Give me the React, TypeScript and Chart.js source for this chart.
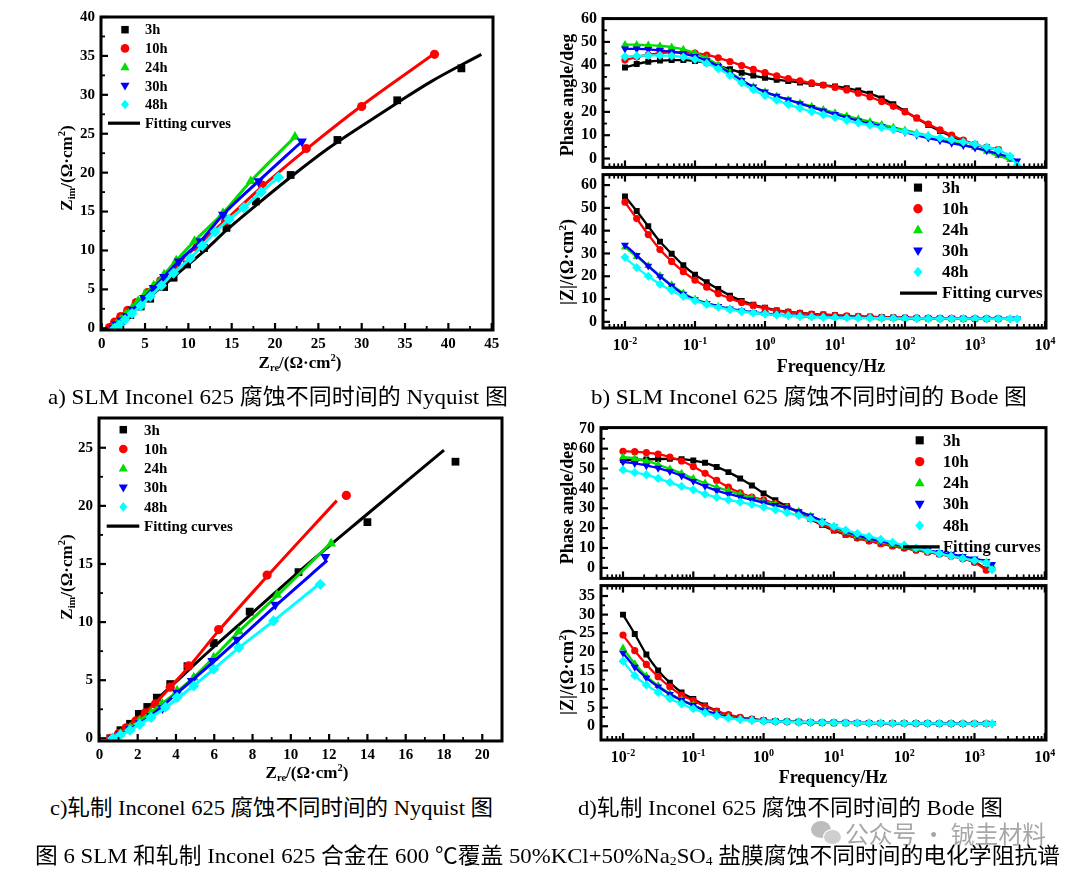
import React, { useEffect, useLayoutEffect, useRef } from 'react';
import { Chart, registerables } from 'chart.js';

Chart.register(...registerables);

// ---------------- series / legend ----------------
const SERIES = ['3h', '10h', '24h', '30h', '48h'];
const FIT_LABEL = 'Fitting curves';
const COLORS = ['#000000', '#ff0000', '#00dd00', '#0000ff', '#00ffff'];

// ---------------- panel a : SLM Nyquist ----------------
const A_3H_X = [1.2, 2.2, 3.3, 4.5, 5.6, 7.2, 8.3, 9.85, 11.8, 14.4, 17.8, 21.8, 27.2, 34.1, 41.5];
const A_3H_Y = [0, 0.85, 1.7, 2.8, 3.8, 5.3, 6.5, 8.2, 10.3, 12.9, 16.3, 19.7, 24.2, 29.3, 33.4];
const A_3H_FIT_X = [0.9, 2, 3, 4, 6, 8, 10, 12, 14.4, 17.8, 22, 26, 30, 34, 38, 43.8];
const A_3H_FIT_Y = [0, 0.9, 1.7, 2.6, 4.5, 6.3, 8.2, 10.1, 12.6, 15.8, 19.6, 23.0, 26.0, 28.9, 31.7, 35.2];
const A_10H_X = [0.9, 1.5, 2.2, 3.0, 4.0, 5.3, 6.8, 8.6, 11.0, 14.3, 18.5, 23.6, 30.0, 38.4];
const A_10H_Y = [0.1, 0.8, 1.5, 2.3, 3.3, 4.6, 6.1, 8.0, 10.4, 13.8, 18.4, 23.1, 28.5, 35.2];
const A_10H_FIT_X = [0.5, 1.2, 2, 3, 5.3, 8.6, 14.3, 18.5, 23.6, 30, 38.4];
const A_10H_FIT_Y = [0, 0.7, 1.4, 2.3, 4.6, 8.1, 13.9, 18.2, 23.0, 28.6, 35.3];
const A_24H_X = [1.3, 1.7, 2.2, 2.8, 3.5, 4.2, 5.0, 6.0, 7.2, 8.6, 10.7, 14.0, 17.2, 22.3];
const A_24H_Y = [0.1, 0.5, 1.1, 1.8, 2.6, 3.5, 4.4, 5.5, 6.9, 8.7, 11.2, 14.8, 18.9, 24.6];
const A_30H_X = [1.3, 1.7, 2.3, 2.9, 3.6, 4.9, 6.0, 7.2, 8.9, 11.4, 14.0, 18.1, 23.1];
const A_30H_Y = [0.05, 0.5, 1.0, 1.6, 2.4, 3.9, 5.2, 6.6, 8.6, 11.2, 14.6, 18.9, 24.0];
const A_48H_X = [1.5, 2.0, 2.7, 3.5, 4.5, 5.6, 6.9, 8.3, 10.2, 11.6, 13.1, 14.7, 16.4, 18.4, 20.4];
const A_48H_Y = [0, 0.4, 1.1, 1.9, 2.9, 4.1, 5.5, 7.1, 9.0, 10.6, 12.4, 14.0, 15.5, 17.5, 19.4];
const A_X_TICKS = [0, 5, 10, 15, 20, 25, 30, 35, 40, 45];
const A_Y_TICKS = [0, 5, 10, 15, 20, 25, 30, 35, 40];

// ---------------- panel c : rolled Nyquist ----------------
const C_3H_X = [0.57, 1.1, 1.6, 2.06, 2.5, 3.0, 3.7, 4.6, 5.97, 7.85, 10.4, 14.0, 18.6];
const C_3H_Y = [0, 0.7, 1.25, 2.1, 2.7, 3.5, 4.67, 6.2, 8.2, 10.9, 14.3, 18.6, 23.8];
const C_3H_FIT_X = [0.5, 1, 1.6, 2.5, 3.7, 5, 6, 8, 10.4, 14, 18];
const C_3H_FIT_Y = [0, 0.5, 1.2, 2.6, 4.4, 6.4, 7.9, 10.8, 14.3, 19.3, 24.8];
const C_10H_X = [0.6, 1.0, 1.4, 1.9, 2.4, 2.92, 3.7, 4.66, 6.23, 8.76, 12.9];
const C_10H_Y = [0, 0.4, 0.9, 1.5, 2.2, 2.96, 4.4, 6.23, 9.36, 14.05, 20.9];
const C_10H_FIT_X = [0.6, 1.2, 2, 2.9, 3.7, 4.7, 6.2, 8.8, 12.4];
const C_10H_FIT_Y = [0, 0.7, 1.7, 3.0, 4.4, 6.2, 9.2, 14.0, 20.45];
const C_24H_X = [0.7, 1.1, 1.6, 2.1, 2.7, 3.28, 4.06, 4.93, 5.97, 7.28, 9.28, 12.1];
const C_24H_Y = [0, 0.4, 0.9, 1.5, 2.2, 2.96, 4.1, 5.23, 6.94, 9.2, 12.35, 16.75];
const C_24H_FIT_X = [0.7, 1.5, 2.5, 3.3, 4.9, 7.3, 9.3, 12.2];
const C_24H_FIT_Y = [0, 0.8, 2.0, 3.0, 5.2, 9.2, 12.3, 17.0];
const C_30H_X = [0.7, 1.1, 1.6, 2.1, 2.7, 3.3, 4.06, 4.83, 5.9, 7.19, 9.19, 11.8];
const C_30H_Y = [0, 0.35, 0.8, 1.3, 1.9, 2.6, 3.94, 4.95, 6.66, 8.5, 11.5, 15.6];
const C_30H_FIT_X = [0.7, 1.5, 2.5, 4.0, 5.9, 7.2, 9.2, 11.9];
const C_30H_FIT_Y = [0, 0.7, 1.7, 3.8, 6.5, 8.4, 11.4, 15.3];
const C_48H_X = [0.7, 1.1, 1.6, 2.1, 2.7, 3.45, 4.06, 4.93, 5.97, 7.28, 9.1, 11.54];
const C_48H_Y = [0, 0.3, 0.7, 1.2, 1.8, 2.68, 3.53, 4.52, 5.95, 7.8, 10.1, 13.25];
const C_48H_FIT_X = [0.7, 1.5, 2.5, 3.5, 4.9, 6, 7.3, 9.1, 11.5];
const C_48H_FIT_Y = [0, 0.6, 1.6, 2.7, 4.5, 6.0, 7.8, 10.1, 13.3];
const C_X_TICKS = [0, 2, 4, 6, 8, 10, 12, 14, 16, 18, 20];
const C_Y_TICKS = [0, 5, 10, 15, 20, 25];

// ---------------- panel b : SLM Bode ----------------
const FREQ_B = [0.01, 0.0147, 0.0215, 0.0316, 0.0464, 0.0681, 0.1, 0.147, 0.215, 0.316, 0.464, 0.681,
  1, 1.47, 2.15, 3.16, 4.64, 6.81, 10, 14.7, 21.5, 31.6, 46.4, 68.1, 100, 147, 215, 316, 464, 681,
  1000, 1470, 2150, 3160, 4000];
const PB_3H = [39.0, 40.5, 41.5, 42.0, 42.2, 42.2, 41.8, 41.0, 39.8, 38.3, 36.8, 35.6, 34.6, 33.8, 33.2, 32.6,
  32.0, 31.5, 30.9, 30.2, 29.2, 27.8, 25.8, 23.3, 20.3, 17.3, 14.4, 11.8, 9.5, 7.6, 6.0, 4.8, 3.8];
const PB_10H = [42.2, 43.5, 44.5, 45.2, 45.5, 45.5, 45.2, 44.4, 43.2, 41.6, 39.9, 38.2, 36.8, 35.5, 34.3, 33.3,
  32.4, 31.5, 30.5, 29.4, 28.0, 26.4, 24.5, 22.4, 20.0, 17.4, 14.8, 12.3, 10.0, 7.9, 6.1, 4.8, 3.8];
const PB_24H = [48.8, 48.8, 48.6, 48.3, 47.8, 46.8, 45.2, 43.0, 40.2, 37.0, 33.8, 30.8, 28.6, 26.8, 25.2, 23.8,
  22.4, 21.0, 19.6, 18.3, 17.0, 15.8, 14.6, 13.4, 12.2, 11.0, 9.8, 8.6, 7.3, 6.0, 4.6, 3.0, 1.2, -0.5];
const PB_30H = [47.0, 47.0, 46.8, 46.4, 45.8, 45.0, 43.8, 42.0, 39.6, 36.6, 33.5, 30.8, 28.6, 26.8, 25.2, 23.6,
  22.0, 20.5, 19.0, 17.6, 16.2, 14.9, 13.7, 12.4, 11.2, 10.0, 8.8, 7.7, 6.6, 5.6, 4.6, 3.4, 2.0, 0.5, -1.0];
const PB_48H = [43.7, 44.0, 44.2, 44.2, 44.0, 43.5, 42.5, 40.8, 38.5, 35.6, 32.4, 29.5, 27.0, 25.0, 23.2, 21.6,
  20.1, 18.8, 17.6, 16.4, 15.3, 14.3, 13.3, 12.4, 11.5, 10.6, 9.7, 8.9, 8.0, 7.1, 6.1, 4.9, 3.5, 1.0, -3.0];
const MB_3H = [55.0, 48.6, 41.9, 35.2, 29.9, 24.8, 20.7, 17.4, 14.4, 11.5, 9.2, 7.5, 6.2, 5.0, 4.4, 3.9, 3.5,
  3.2, 2.9, 2.6, 2.4, 2.2, 2.0, 1.9, 1.8, 1.7, 1.6, 1.55, 1.5, 1.45, 1.4, 1.4, 1.4];
const MB_10H = [52.5, 45.3, 38.3, 31.7, 26.5, 22.0, 18.3, 15.2, 12.4, 10.3, 8.5, 7.1, 5.9, 4.9, 4.3, 3.8, 3.4,
  3.1, 2.8, 2.6, 2.4, 2.2, 2.0, 1.9, 1.8, 1.7, 1.6, 1.55, 1.5, 1.45, 1.4, 1.4, 1.4];
const MB_24H = [32.8, 28.6, 24.6, 20.3, 16.2, 12.6, 10.0, 8.2, 6.8, 5.7, 4.8, 4.1, 3.6, 3.2, 2.8, 2.5, 2.3, 2.1,
  2.0, 1.9, 1.8, 1.7, 1.65, 1.6, 1.55, 1.5, 1.5, 1.45, 1.45, 1.4, 1.4, 1.4, 1.35, 1.35];
const MB_30H = [33.7, 29.2, 24.5, 19.9, 15.8, 12.2, 9.8, 8.1, 6.8, 5.7, 4.8, 4.1, 3.6, 3.2, 2.8, 2.5, 2.3, 2.1,
  2.0, 1.9, 1.8, 1.7, 1.65, 1.6, 1.55, 1.5, 1.5, 1.45, 1.45, 1.4, 1.4, 1.4, 1.35, 1.35, 1.3];
const MB_48H = [28.3, 23.8, 20.0, 16.5, 13.7, 11.2, 9.3, 7.7, 6.4, 5.4, 4.5, 3.9, 3.4, 3.0, 2.7, 2.4, 2.2, 2.0,
  1.9, 1.8, 1.7, 1.65, 1.6, 1.55, 1.5, 1.5, 1.45, 1.45, 1.4, 1.4, 1.4, 1.35, 1.35, 1.35, 1.3];
const B_PHASE_TICKS = [0, 10, 20, 30, 40, 50, 60];
const B_MAG_TICKS = [0, 10, 20, 30, 40, 50, 60];

// ---------------- panel d : rolled Bode ----------------
const FREQ_D = [0.01, 0.0147, 0.0215, 0.0316, 0.0464, 0.0681, 0.1, 0.147, 0.215, 0.316, 0.464, 0.681,
  1, 1.47, 2.15, 3.16, 4.64, 6.81, 10, 14.7, 21.5, 31.6, 46.4, 68.1, 100, 147, 215, 316, 464, 681,
  1000, 1470, 1780];
const PD_3H = [54.3, 54.4, 54.6, 54.8, 54.9, 54.7, 54.0, 52.9, 50.8, 48.2, 45.0, 41.5, 37.5, 34.0, 31.0, 27.8,
  24.6, 21.5, 18.8, 16.7, 15.0, 13.6, 12.3, 11.1, 10.0, 9.0, 8.0, 7.0, 5.9, 4.8, 3.0, -0.8];
const PD_10H = [58.7, 58.5, 58.0, 57.2, 55.8, 53.8, 51.0, 47.6, 44.0, 40.6, 37.8, 35.6, 34.2, 32.4, 30.4, 27.9,
  25.0, 22.0, 19.2, 16.9, 15.0, 13.5, 12.2, 11.0, 9.9, 8.9, 7.9, 6.9, 5.8, 4.6, 2.8, -1.2];
const PD_24H = [55.8, 55.0, 53.8, 52.0, 49.8, 47.6, 45.0, 42.7, 40.6, 38.8, 37.0, 35.2, 33.5, 32.0, 30.4, 28.4,
  26.0, 23.3, 20.3, 18.0, 16.0, 14.5, 13.1, 11.8, 10.6, 9.5, 8.5, 7.5, 6.4, 5.3, 4.0, 2.6, 0.8];
const PD_30H = [53.3, 52.6, 51.5, 50.2, 48.5, 46.3, 43.6, 41.1, 38.9, 37.2, 35.7, 34.2, 32.8, 31.5, 30.2, 28.4,
  26.2, 23.6, 20.8, 18.4, 16.4, 14.8, 13.4, 12.1, 10.9, 9.8, 8.8, 7.8, 6.8, 5.8, 4.6, 3.3, 1.8];
const PD_48H = [49.3, 48.0, 46.9, 45.0, 43.0, 41.0, 39.3, 37.1, 35.5, 34.2, 33.1, 31.9, 30.6, 29.2, 27.8, 26.3,
  24.6, 22.8, 20.9, 19.0, 17.3, 15.8, 14.3, 12.8, 11.4, 10.0, 8.6, 7.2, 5.9, 4.8, 3.7, 2.6, -1.0];
const MD_3H = [30.0, 24.8, 19.3, 15.0, 11.7, 9.1, 7.3, 5.6, 4.1, 3.0, 2.3, 1.9, 1.6, 1.4, 1.3, 1.2, 1.1, 1.0,
  1.0, 0.95, 0.9, 0.9, 0.85, 0.85, 0.8, 0.8, 0.8, 0.75, 0.75, 0.7, 0.7, 0.7];
const MD_10H = [24.5, 20.3, 16.6, 13.3, 10.6, 8.4, 6.9, 5.3, 4.1, 3.1, 2.4, 1.9, 1.5, 1.3, 1.2, 1.1, 1.0, 0.95,
  0.9, 0.9, 0.85, 0.85, 0.8, 0.8, 0.8, 0.75, 0.75, 0.7, 0.7, 0.7, 0.7, 0.7];
const MD_24H = [21.0, 16.8, 13.5, 10.9, 8.8, 7.1, 5.7, 4.3, 3.3, 2.5, 2.0, 1.7, 1.5, 1.35, 1.25, 1.15, 1.1, 1.0,
  0.95, 0.9, 0.9, 0.85, 0.85, 0.8, 0.8, 0.8, 0.75, 0.75, 0.7, 0.7, 0.7, 0.7, 0.7];
const MD_30H = [19.7, 15.9, 13.0, 10.6, 8.6, 7.0, 5.6, 4.2, 3.2, 2.4, 1.9, 1.6, 1.4, 1.3, 1.2, 1.1, 1.05, 1.0,
  0.95, 0.9, 0.9, 0.85, 0.85, 0.8, 0.8, 0.8, 0.75, 0.75, 0.7, 0.7, 0.7, 0.7, 0.7];
const MD_48H = [17.5, 13.6, 11.1, 9.1, 7.4, 6.0, 4.7, 3.6, 2.8, 2.2, 1.8, 1.55, 1.4, 1.3, 1.2, 1.1, 1.05, 1.0,
  0.95, 0.9, 0.9, 0.85, 0.85, 0.8, 0.8, 0.8, 0.75, 0.75, 0.7, 0.7, 0.7, 0.7, 0.7];
const D_PHASE_TICKS = [0, 10, 20, 30, 40, 50, 60, 70];
const D_MAG_TICKS = [0, 5, 10, 15, 20, 25, 30, 35];

const BODE_X_TICKS = [0.01, 0.1, 1, 10, 100, 1000, 10000];
const BODE_X_EXP = ['-2', '-1', '0', '1', '2', '3', '4'];

// ---------------- styling helpers ----------------
const SERIF = '"Liberation Serif", "Times New Roman", serif';
const POINT_STYLE = ['rect', 'circle', 'triangle', 'triangle', 'rectRot'];
const POINT_ROT = [0, 0, 0, 180, 0];
const MARK = ['square', 'circle', 'up', 'down', 'diamond'];

function mids(t: number[]) {
  const out: number[] = [];
  for (let i = 0; i < t.length - 1; i++) out.push((t[i] + t[i + 1]) / 2);
  return out;
}
function logMinor(min: number, max: number) {
  const out: number[] = [];
  for (let e = -3; e <= 4; e++) for (let k = 2; k <= 9; k++) {
    const v = k * Math.pow(10, e);
    if (v > min && v < max) out.push(v);
  }
  return out;
}
function pts(xs: number[], ys: number[]) {
  return ys.map((y, i) => ({ x: xs[i], y }));
}

function nyqDatasets(marks: number[][][], fits: number[][][], radii: number[]) {
  const ds: any[] = [];
  for (let i = 0; i < 5; i++) {
    ds.push({
      label: SERIES[i] + ' fit', data: pts(fits[i][0], fits[i][1]), showLine: true,
      borderColor: COLORS[i], borderWidth: 3, pointRadius: 0, cubicInterpolationMode: 'monotone',
      order: 10 - 2 * i,
    });
    ds.push({
      label: SERIES[i], data: pts(marks[i][0], marks[i][1]), showLine: false,
      pointStyle: POINT_STYLE[i], pointRotation: POINT_ROT[i], pointRadius: radii[i],
      pointBackgroundColor: COLORS[i], pointBorderColor: COLORS[i], pointBorderWidth: 0,
      order: 9 - 2 * i,
    });
  }
  return ds;
}

function bodeDatasets(freq: number[], series: number[][], radii: number[]) {
  return series.map((ys, i) => ({
    label: SERIES[i], data: pts(freq, ys), showLine: true,
    borderColor: COLORS[i], borderWidth: 2.3, cubicInterpolationMode: 'monotone',
    pointStyle: POINT_STYLE[i], pointRotation: POINT_ROT[i], pointRadius: radii[i],
    pointBackgroundColor: COLORS[i], pointBorderColor: COLORS[i], pointBorderWidth: 0,
    order: 5 - i,
  }));
}

function drawMarker(ctx: CanvasRenderingContext2D, kind: string, x: number, y: number, r: number, color: string) {
  ctx.fillStyle = color;
  ctx.beginPath();
  if (kind === 'square') ctx.rect(x - r * 0.78, y - r * 0.78, r * 1.56, r * 1.56);
  else if (kind === 'circle') ctx.arc(x, y, r * 0.9, 0, Math.PI * 2);
  else if (kind === 'up') { ctx.moveTo(x, y - r); ctx.lineTo(x + r * 0.95, y + r * 0.65); ctx.lineTo(x - r * 0.95, y + r * 0.65); ctx.closePath(); }
  else if (kind === 'down') { ctx.moveTo(x, y + r); ctx.lineTo(x + r * 0.95, y - r * 0.65); ctx.lineTo(x - r * 0.95, y - r * 0.65); ctx.closePath(); }
  else { ctx.moveTo(x, y - r); ctx.lineTo(x + r * 0.85, y); ctx.lineTo(x, y + r); ctx.lineTo(x - r * 0.85, y); ctx.closePath(); }
  ctx.fill();
}

type Spec = {
  frame: { L: number; R: number; T: number; B: number };
  xType: 'linear' | 'logarithmic';
  xMin: number; xMax: number; yMin: number; yMax: number;
  xTicks: number[]; xMinor: number[]; yTicks: number[]; yMinor: number[];
  xLabels: 'linear' | 'pow10' | 'none';
  tickFont: number;
  datasets: any[];
  topTicks?: boolean;
  legend?: { markerDx: number; textDx: number; dy0: number; gap: number; lineX1: number; lineX2: number; size: number; r: number };
};

function makeDecor(spec: Spec) {
  return {
    id: 'decor',
    afterDatasetsDraw(chart: any) {
      const ctx: CanvasRenderingContext2D = chart.ctx;
      const a = chart.chartArea;
      const xs = chart.scales.x;
      const ys = chart.scales.y;
      ctx.save();
      ctx.strokeStyle = '#000';
      const seg = (x1: number, y1: number, x2: number, y2: number, w: number) => {
        ctx.lineWidth = w; ctx.beginPath(); ctx.moveTo(x1, y1); ctx.lineTo(x2, y2); ctx.stroke();
      };
      const inX = (p: number) => p > a.left + 1 && p < a.right - 1;
      const inY = (p: number) => p > a.top + 1 && p < a.bottom - 1;
      for (const v of spec.xTicks) {
        const p = xs.getPixelForValue(v);
        if (p < a.left - 1 || p > a.right + 1) continue;
        seg(p, a.bottom, p, a.bottom - 7, 2.2);
        if (spec.topTicks) seg(p, a.top, p, a.top + 7, 2.2);
      }
      for (const v of spec.xMinor) {
        const p = xs.getPixelForValue(v);
        if (!inX(p)) continue;
        seg(p, a.bottom, p, a.bottom - 4, 1.8);
        if (spec.topTicks) seg(p, a.top, p, a.top + 4, 1.8);
      }
      for (const v of spec.yTicks) {
        const p = ys.getPixelForValue(v);
        if (p < a.top - 1 || p > a.bottom + 1) continue;
        seg(a.left, p, a.left + 7, p, 2.2);
      }
      for (const v of spec.yMinor) {
        const p = ys.getPixelForValue(v);
        if (!inY(p)) continue;
        seg(a.left, p, a.left + 4, p, 1.8);
      }
      ctx.lineWidth = 3;
      ctx.strokeRect(a.left, a.top, a.right - a.left, a.bottom - a.top);

      if (spec.xLabels === 'pow10') {
        ctx.fillStyle = '#000';
        ctx.textBaseline = 'alphabetic';
        ctx.textAlign = 'left';
        const size = spec.tickFont;
        BODE_X_TICKS.forEach((v, i) => {
          const p = xs.getPixelForValue(v);
          ctx.font = `bold ${size}px ${SERIF}`;
          const wb = ctx.measureText('10').width;
          ctx.font = `bold ${Math.round(size * 0.62)}px ${SERIF}`;
          const sup = BODE_X_EXP[i];
          const ws = ctx.measureText(sup).width;
          const x0 = p - (wb + ws) / 2;
          const yb = a.bottom + 17 + size * 0.33;
          ctx.font = `bold ${size}px ${SERIF}`;
          ctx.fillText('10', x0, yb);
          ctx.font = `bold ${Math.round(size * 0.62)}px ${SERIF}`;
          ctx.fillText(sup, x0 + wb, yb - size * 0.42);
        });
      }

      const lg = spec.legend;
      if (lg) {
        ctx.textBaseline = 'middle';
        ctx.textAlign = 'left';
        ctx.font = `bold ${lg.size}px ${SERIF}`;
        for (let i = 0; i < 5; i++) {
          const y = a.top + lg.dy0 + i * lg.gap;
          drawMarker(ctx, MARK[i], a.left + lg.markerDx, y, lg.r, COLORS[i]);
          ctx.fillStyle = '#000';
          ctx.fillText(SERIES[i], a.left + lg.textDx, y + 1);
        }
        const y = a.top + lg.dy0 + 5 * lg.gap;
        seg(a.left + lg.lineX1, y, a.left + lg.lineX2, y, 3.2);
        ctx.fillStyle = '#000';
        ctx.fillText(FIT_LABEL, a.left + lg.textDx, y + 1);
      }
      ctx.restore();
    },
  };
}

function ChartBox({ spec }: { spec: Spec }) {
  const ref = useRef<HTMLCanvasElement>(null);
  const YW = 70, PT = 12, PR = 18;
  const XH = spec.xLabels === 'none' ? 12 : 44;
  const { L, R, T, B } = spec.frame;
  const left = L - YW, top = T - PT;
  const width = YW + (R - L) + PR, height = PT + (B - T) + XH;
  useEffect(() => {
    const tickFont = { family: SERIF, size: spec.tickFont, weight: 'bold' as const };
    const chart = new Chart(ref.current as HTMLCanvasElement, {
      type: 'scatter',
      data: { datasets: spec.datasets },
      options: {
        animation: false,
        responsive: false,
        maintainAspectRatio: false,
        events: [],
        layout: { padding: { top: PT, right: PR, left: 0, bottom: 0 } },
        plugins: { legend: { display: false }, tooltip: { enabled: false } },
        scales: {
          x: {
            type: spec.xType, min: spec.xMin, max: spec.xMax,
            grid: { display: false, drawTicks: false }, border: { display: false },
            ticks: {
              display: spec.xLabels === 'linear', font: tickFont, color: '#000', padding: 5,
              autoSkip: false, maxRotation: 0, minRotation: 0, callback: (v: any) => String(v),
            },
            afterBuildTicks: (s: any) => { s.ticks = spec.xTicks.map((v) => ({ value: v })); },
            afterFit: (s: any) => { s.height = XH; },
          } as any,
          y: {
            type: 'linear', min: spec.yMin, max: spec.yMax,
            grid: { display: false, drawTicks: false }, border: { display: false },
            ticks: { font: tickFont, color: '#000', padding: 6, autoSkip: false, callback: (v: any) => String(v) },
            afterBuildTicks: (s: any) => { s.ticks = spec.yTicks.map((v) => ({ value: v })); },
            afterFit: (s: any) => { s.width = YW; },
          } as any,
        },
      } as any,
      plugins: [makeDecor(spec)],
    });
    return () => chart.destroy();
  }, []);
  return (
    <canvas ref={ref} width={width} height={height}
      style={{ position: 'absolute', left, top, width, height }} />
  );
}

function FitText({ x1, x2, cy, size, color, family, children }: any) {
  const ref = useRef<HTMLDivElement>(null);
  useLayoutEffect(() => {
    const el = ref.current;
    if (!el) return;
    el.style.transform = 'translateY(-50%)';
    const w = el.getBoundingClientRect().width;
    const s = (x2 - x1) / w;
    el.style.transform = `translateY(-50%) scaleX(${s})`;
  }, []);
  return (
    <div ref={ref} style={{
      position: 'absolute', left: x1, top: cy, transformOrigin: '0 50%', whiteSpace: 'nowrap',
      fontSize: size, lineHeight: 1.15, color: color || '#000',
      fontFamily: family || '"Liberation Serif", "Noto Sans CJK SC", serif',
    }}>{children}</div>
  );
}

const subStyle: React.CSSProperties = { fontSize: '0.62em', verticalAlign: '-0.3em', lineHeight: 0 };
const supStyle: React.CSSProperties = { fontSize: '0.62em', verticalAlign: '0.6em', lineHeight: 0 };

function AxisTitle({ cx, cy, size, vertical, children }: any) {
  return (
    <div style={{
      position: 'absolute', left: cx, top: cy, whiteSpace: 'nowrap', fontFamily: SERIF,
      fontWeight: 'bold', fontSize: size, lineHeight: 1, color: '#000',
      transform: `translate(-50%, -50%)${vertical ? ' rotate(-90deg)' : ''}`,
    }}>{children}</div>
  );
}

// ---------------- chart specs ----------------
const NYQ_R = [5.5, 4.6, 5.8, 5.8, 5.6];
const BODE_R = [4.2, 3.6, 4.6, 4.6, 4.6];

const BX_MIN = Math.pow(10, -2.314), BX_MAX = Math.pow(10, 4.014);
const DX_MIN = Math.pow(10, -2.313), DX_MAX = Math.pow(10, 4.017);

const specA: Spec = {
  frame: { L: 101, R: 493, T: 14, B: 330 },
  xType: 'linear', xMin: -0.08, xMax: 45.15, yMin: -0.22, yMax: 40,
  xTicks: A_X_TICKS, xMinor: mids(A_X_TICKS), yTicks: A_Y_TICKS, yMinor: mids(A_Y_TICKS),
  xLabels: 'linear', tickFont: 15,
  datasets: nyqDatasets(
    [[A_3H_X, A_3H_Y], [A_10H_X, A_10H_Y], [A_24H_X, A_24H_Y], [A_30H_X, A_30H_Y], [A_48H_X, A_48H_Y]],
    [[A_3H_FIT_X, A_3H_FIT_Y], [A_10H_FIT_X, A_10H_FIT_Y], [A_24H_X, A_24H_Y], [A_30H_X, A_30H_Y], [A_48H_X, A_48H_Y]],
    NYQ_R),
  legend: { markerDx: 24, textDx: 44, dy0: 12.7, gap: 18.7, lineX1: 7, lineX2: 39, size: 14.5, r: 4.8 },
};

const specC: Spec = {
  frame: { L: 99, R: 502, T: 415, B: 741 },
  xType: 'linear', xMin: -0.02, xMax: 21.03, yMin: -0.23, yMax: 27.56,
  xTicks: C_X_TICKS, xMinor: mids(C_X_TICKS), yTicks: C_Y_TICKS, yMinor: mids(C_Y_TICKS),
  xLabels: 'linear', tickFont: 15,
  datasets: nyqDatasets(
    [[C_3H_X, C_3H_Y], [C_10H_X, C_10H_Y], [C_24H_X, C_24H_Y], [C_30H_X, C_30H_Y], [C_48H_X, C_48H_Y]],
    [[C_3H_FIT_X, C_3H_FIT_Y], [C_10H_FIT_X, C_10H_FIT_Y], [C_24H_FIT_X, C_24H_FIT_Y], [C_30H_FIT_X, C_30H_FIT_Y], [C_48H_FIT_X, C_48H_FIT_Y]],
    NYQ_R),
  legend: { markerDx: 24.3, textDx: 45, dy0: 11.7, gap: 19.3, lineX1: 7.7, lineX2: 40.3, size: 15, r: 4.8 },
};

const specBPhase: Spec = {
  frame: { L: 603, R: 1046, T: 15, B: 171 },
  xType: 'logarithmic', xMin: BX_MIN, xMax: BX_MAX, yMin: -3.8, yMax: 60,
  xTicks: BODE_X_TICKS, xMinor: logMinor(BX_MIN, BX_MAX), yTicks: B_PHASE_TICKS, yMinor: mids(B_PHASE_TICKS),
  xLabels: 'none', tickFont: 16,
  datasets: bodeDatasets(FREQ_B, [PB_3H, PB_10H, PB_24H, PB_30H, PB_48H], BODE_R),
};

const specBMag: Spec = {
  frame: { L: 603, R: 1046, T: 171, B: 328 },
  xType: 'logarithmic', xMin: BX_MIN, xMax: BX_MAX, yMin: -2.7, yMax: 64.6,
  xTicks: BODE_X_TICKS, xMinor: logMinor(BX_MIN, BX_MAX), yTicks: B_MAG_TICKS, yMinor: mids(B_MAG_TICKS),
  xLabels: 'pow10', tickFont: 16, topTicks: true,
  datasets: bodeDatasets(FREQ_B, [MB_3H, MB_10H, MB_24H, MB_30H, MB_48H], BODE_R),
  legend: { markerDx: 315, textDx: 339, dy0: 13, gap: 21.1, lineX1: 297, lineX2: 334, size: 17, r: 5.2 },
};

const specDPhase: Spec = {
  frame: { L: 601, R: 1046, T: 424, B: 582 },
  xType: 'logarithmic', xMin: DX_MIN, xMax: DX_MAX, yMin: -5.3, yMax: 70.6,
  xTicks: BODE_X_TICKS, xMinor: logMinor(DX_MIN, DX_MAX), yTicks: D_PHASE_TICKS, yMinor: mids(D_PHASE_TICKS),
  xLabels: 'none', tickFont: 16,
  datasets: bodeDatasets(FREQ_D, [PD_3H, PD_10H, PD_24H, PD_30H, PD_48H], BODE_R),
  legend: { markerDx: 318.7, textDx: 342, dy0: 12.7, gap: 21.3, lineX1: 302, lineX2: 338.7, size: 16.5, r: 5.2 },
};

const specDMag: Spec = {
  frame: { L: 601, R: 1046, T: 582, B: 740 },
  xType: 'logarithmic', xMin: DX_MIN, xMax: DX_MAX, yMin: -3.7, yMax: 37.8,
  xTicks: BODE_X_TICKS, xMinor: logMinor(DX_MIN, DX_MAX), yTicks: D_MAG_TICKS, yMinor: mids(D_MAG_TICKS),
  xLabels: 'pow10', tickFont: 16, topTicks: true,
  datasets: bodeDatasets(FREQ_D, [MD_3H, MD_10H, MD_24H, MD_30H, MD_48H], BODE_R),
};

export default function App() {
  return (
    <div style={{ position: 'absolute', left: 0, top: 0, width: 1080, height: 881, background: '#fff', overflow: 'hidden' }}>
      <ChartBox spec={specA} />
      <ChartBox spec={specBPhase} />
      <ChartBox spec={specBMag} />
      <ChartBox spec={specC} />
      <ChartBox spec={specDPhase} />
      <ChartBox spec={specDMag} />

      {/* axis titles */}
      <AxisTitle cx={300} cy={362} size={17}>Z<sub style={subStyle}>re</sub>/(Ω·cm<sup style={supStyle}>2</sup>)</AxisTitle>
      <AxisTitle cx={66} cy={168} size={17} vertical>Z<sub style={subStyle}>im</sub>/(Ω·cm<sup style={supStyle}>2</sup>)</AxisTitle>
      <AxisTitle cx={307} cy={772} size={17}>Z<sub style={subStyle}>re</sub>/(Ω·cm<sup style={supStyle}>2</sup>)</AxisTitle>
      <AxisTitle cx={66} cy={577} size={17} vertical>Z<sub style={subStyle}>im</sub>/(Ω·cm<sup style={supStyle}>2</sup>)</AxisTitle>

      <AxisTitle cx={567} cy={95} size={18} vertical>Phase angle/deg</AxisTitle>
      <AxisTitle cx={567} cy={262} size={18} vertical>|Z|/(Ω·cm<sup style={supStyle}>2</sup>)</AxisTitle>
      <AxisTitle cx={831} cy={366} size={18}>Frequency/Hz</AxisTitle>

      <AxisTitle cx={567} cy={503} size={18} vertical>Phase angle/deg</AxisTitle>
      <AxisTitle cx={567} cy={672} size={18} vertical>|Z|/(Ω·cm<sup style={supStyle}>2</sup>)</AxisTitle>
      <AxisTitle cx={833} cy={777} size={18}>Frequency/Hz</AxisTitle>

      {/* captions */}
      <FitText x1={48} x2={508} cy={397} size={22}>a) SLM Inconel 625 腐蚀不同时间的 Nyquist 图</FitText>
      <FitText x1={591} x2={1027} cy={397} size={22}>b) SLM Inconel 625 腐蚀不同时间的 Bode 图</FitText>
      <FitText x1={50} x2={493} cy={808} size={22}>c)轧制 Inconel 625 腐蚀不同时间的 Nyquist 图</FitText>
      <FitText x1={578} x2={1003} cy={808} size={22}>d)轧制 Inconel 625 腐蚀不同时间的 Bode 图</FitText>

      {/* watermark */}
      <div style={{ position: 'absolute', left: 811, top: 821, width: 20, height: 17, borderRadius: '50%', background: '#bdbdbd' }} />
      <div style={{ position: 'absolute', left: 823, top: 829, width: 17, height: 14, borderRadius: '50%', background: '#cfcfcf', border: '1px solid #fff' }} />
      <FitText x1={845} x2={1046} cy={833} size={24} color="rgba(150,150,150,0.85)" family='"Noto Sans CJK SC", sans-serif'>公众号 · 铖圭材料</FitText>

      <FitText x1={35} x2={1060} cy={856} size={22}>
        图 6 SLM 和轧制 Inconel 625 合金在 600 ℃覆盖 50%KCl+50%Na<sub style={{ fontSize: '0.6em', verticalAlign: '-0.15em', lineHeight: 0 }}>2</sub>SO<sub style={{ fontSize: '0.6em', verticalAlign: '-0.15em', lineHeight: 0 }}>4</sub> 盐膜腐蚀不同时间的电化学阻抗谱
      </FitText>
    </div>
  );
}
